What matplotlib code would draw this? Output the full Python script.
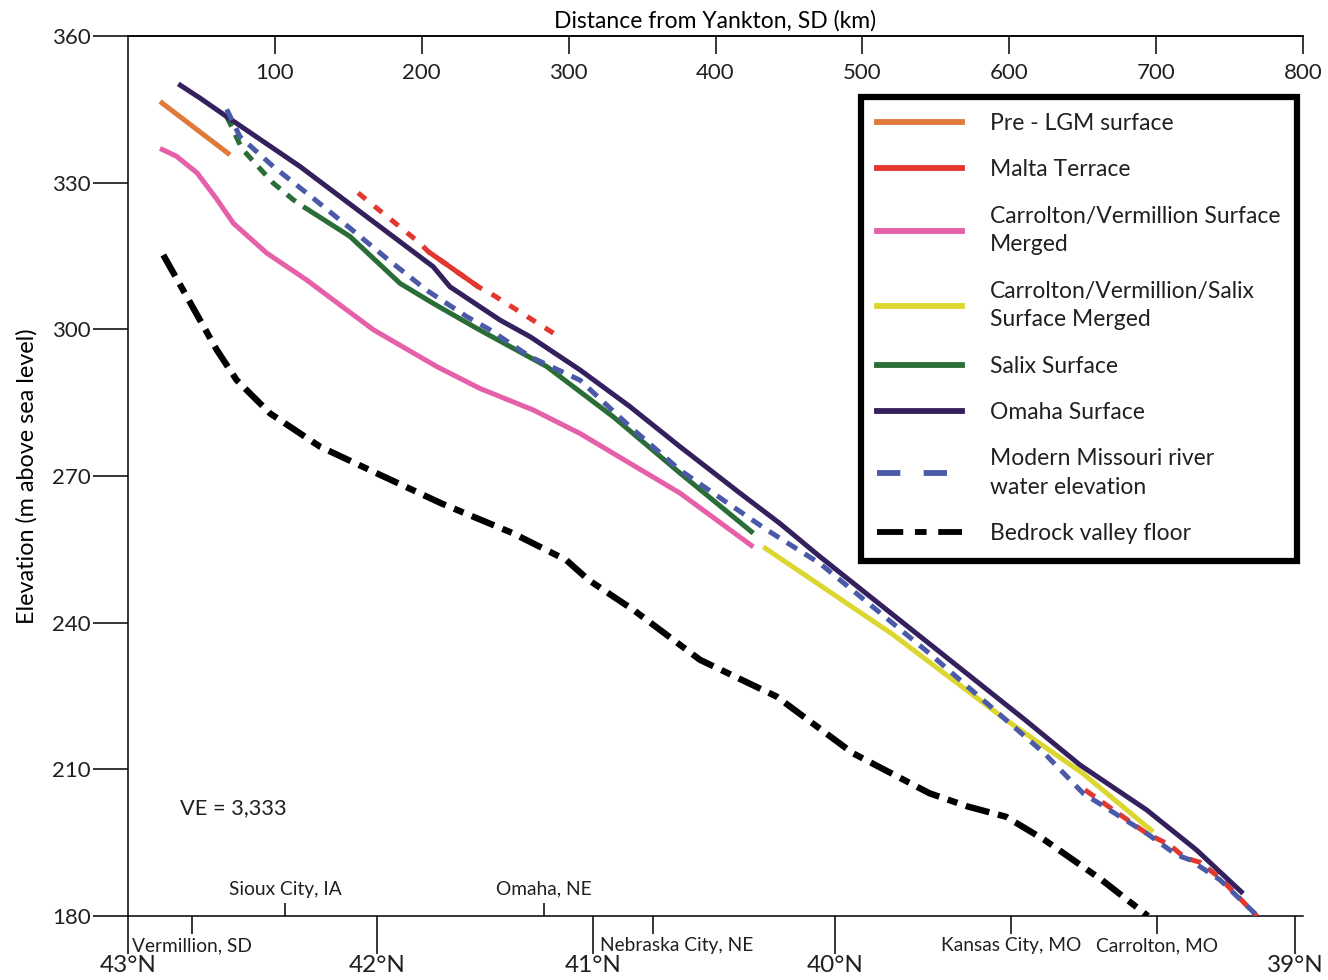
import matplotlib.pyplot as plt
from matplotlib.lines import Line2D

plt.rcParams['font.family'] = ['Lato', 'DejaVu Sans']
plt.rcParams['text.color'] = '#231f20'

# distance from Yankton (km) and elevation (m above sea level)
pre_lgm_km = [21.8, 69.4]
pre_lgm_m = [346.6, 335.7]

malta_up_km = [156.6, 198.8, 204.4, 238.5, 248.7, 291.8]
malta_up_m = [327.9, 317.6, 315.9, 308.7, 307.0, 298.8]
malta_down_km = [651.5, 693.5, 709.4, 719.6, 729.7, 743.4, 768.6]
malta_down_m = [205.8, 196.9, 194.5, 191.9, 191.0, 187.8, 180.0]

carr_verm_km = [21.8, 33.0, 47.0, 60.0, 71.7, 94.4, 121.6, 139.8, 167.1, 210.1, 239.6,
                275.9, 307.7, 341.7, 375.8, 425.7]
carr_verm_m = [337.0, 335.4, 332.0, 326.8, 321.7, 315.6, 310.1, 306.0, 299.9, 292.4, 287.9,
               283.5, 278.7, 272.6, 266.5, 255.5]

carr_verm_salix_km = [432.5, 519.7, 597.8, 649.9, 698.0]
carr_verm_salix_m = [255.5, 237.8, 220.1, 209.2, 197.2]

salix_km = [67.2, 70.6, 77.4, 87.6, 98.9, 112.5, 119.3, 151.1, 185.2, 207.8, 237.4,
            285.0, 330.4, 375.8, 425.7]
salix_m = [343.5, 341.4, 337.0, 333.6, 329.9, 326.5, 325.1, 319.0, 309.4, 305.3, 300.2,
           292.4, 282.1, 270.6, 258.3]

omaha_km = [34.2, 49.0, 67.2, 117.1, 207.8, 219.2, 253.2, 273.7, 307.7, 341.7, 375.8,
            416.6, 443.8, 471.1, 610.8, 648.1, 693.5, 727.5, 759.2]
omaha_m = [350.2, 347.3, 343.5, 333.3, 312.8, 308.7, 301.9, 298.5, 291.7, 284.2, 276.0,
           266.5, 260.3, 253.5, 220.1, 210.9, 201.7, 193.5, 184.6]

river_km = [67.2, 76.2, 98.9, 126.1, 151.1, 176.1, 203.3, 230.6, 246.4, 273.7, 307.7,
            341.7, 375.8, 405.2, 434.8, 471.1, 545.7, 623.8, 650.3, 693.5, 713.9, 722.9,
            743.4, 768.3]
river_m = [345.0, 339.4, 333.3, 326.8, 320.7, 314.5, 308.0, 302.6, 299.9, 294.4, 289.6,
           280.1, 271.2, 265.1, 259.0, 252.1, 233.7, 213.3, 205.1, 196.9, 192.5, 191.5,
           187.4, 180.2]

bedrock_km = [24.0, 40.0, 60.4, 74.0, 96.7, 130.7, 164.7, 213.3, 262.0, 298.4, 313.7,
              344.1, 389.4, 441.5, 493.5, 545.7, 571.7, 597.8, 623.8, 662.9, 694.4]
bedrock_m = [315.2, 306.7, 295.8, 289.6, 282.8, 276.0, 271.2, 264.4, 258.3, 252.8, 248.7,
             242.6, 232.4, 224.9, 213.3, 205.1, 202.4, 200.3, 195.6, 187.4, 180.0]

distance_ticks = [100, 200, 300, 400, 500, 600, 700, 800]
elev_ticks = [180, 210, 240, 270, 300, 330, 360]

lat_km = [0, 169.5, 316.5, 481.3, 794.7]
lat_labels = ['43°N', '42°N', '41°N', '40°N', '39°N']

towns_above_km = [106.9, 283.2]
towns_above = ['Sioux City, IA', 'Omaha, NE']
towns_below_km = [43.6, 357.4, 601.0, 700.5]
towns_below = ['Vermillion, SD', 'Nebraska City, NE', 'Kansas City, MO', 'Carrolton, MO']

c_orange = '#df7a3a'
c_red = '#e2382f'
c_pink = '#e560a8'
c_yellow = '#dcd730'
c_green = '#2b6d36'
c_purple = '#35205e'
c_blue = '#4a5aa8'

fig = plt.figure(figsize=(13.28, 9.8), dpi=100)
ax = fig.add_axes([0.0964, 0.0653, 0.8848, 0.898])

lw = 3.6
ax.plot(bedrock_km, bedrock_m, color='black', lw=4.6, dashes=(3.8, 1.4, 1.6, 1.4), zorder=2)
ax.plot(pre_lgm_km, pre_lgm_m, color=c_orange, lw=lw, solid_capstyle='butt', zorder=3)
ax.plot(carr_verm_km, carr_verm_m, color=c_pink, lw=lw, solid_capstyle='butt', zorder=3)
ax.plot(carr_verm_salix_km, carr_verm_salix_m, color=c_yellow, lw=lw, solid_capstyle='butt', zorder=3)
ax.plot(salix_km[:7], salix_m[:7], color=c_green, lw=lw, dashes=(2.2, 1.8), zorder=3)
ax.plot(salix_km[6:], salix_m[6:], color=c_green, lw=lw, solid_capstyle='butt', zorder=3)
ax.plot(malta_up_km, malta_up_m, color=c_red, lw=lw, dashes=(2.0, 2.2), zorder=3)
ax.plot(malta_up_km[2:4], malta_up_m[2:4], color=c_red, lw=lw, solid_capstyle='butt', zorder=3)
ax.plot(malta_down_km, malta_down_m, color=c_red, lw=lw, dashes=(2.4, 1.8), zorder=4)
ax.plot(omaha_km, omaha_m, color=c_purple, lw=lw, solid_capstyle='butt', zorder=5)
ax.plot(river_km, river_m, color=c_blue, lw=lw, dashes=(2.4, 1.8), zorder=6)

ax.set_xlim(0, 800)
ax.set_ylim(180, 360)

ax.spines['right'].set_visible(False)
for s in ['left', 'top', 'bottom']:
    ax.spines[s].set_linewidth(1.1)

ax.set_yticks(elev_ticks)
ax.tick_params(axis='y', direction='out', length=25, width=1.1, labelsize=16, pad=2,
               labelcolor='#231f20')
ax.set_ylabel('Elevation (m above sea level)', fontsize=16.8, labelpad=10)

ax.set_xticks(lat_km, lat_labels)
ax.tick_params(axis='x', direction='out', length=27, width=1.1, labelsize=17.5, pad=1,
               labelcolor='#231f20')

top = ax.secondary_xaxis('top')
top.set_xticks(distance_ticks)
top.tick_params(direction='in', length=13, width=1.1, labelsize=16, pad=-34,
                labelcolor='#231f20')
top.spines['top'].set_linewidth(1.1)
top.set_xlabel('Distance from Yankton, SD (km)', fontsize=16.5, labelpad=6)

trans = ax.get_xaxis_transform()
ax.vlines(towns_above_km, 0, 0.015, color='black', lw=1.1, transform=trans, clip_on=False)
ax.vlines(towns_below_km, -0.02, 0, color='black', lw=1.1, transform=trans, clip_on=False)
for km, name in zip(towns_above_km, towns_above):
    ax.text(km, 0.021, name, transform=trans, ha='center', va='bottom', fontsize=13.8)
for km, name in zip(towns_below_km, towns_below):
    ha = 'left' if name.startswith('Nebraska') else 'center'
    x = km - 36 if ha == 'left' else km
    ax.text(x, -0.024, name, transform=trans, ha=ha, va='top', fontsize=13.8)

ax.text(0.044, 0.123, 'VE = 3,333', transform=ax.transAxes, fontsize=15.7,
        ha='left', va='center')

handles = [
    Line2D([], [], color=c_orange, lw=4.2),
    Line2D([], [], color=c_red, lw=4.2),
    Line2D([], [], color=c_pink, lw=4.2),
    Line2D([], [], color=c_yellow, lw=4.2),
    Line2D([], [], color=c_green, lw=4.2),
    Line2D([], [], color=c_purple, lw=4.2),
    Line2D([], [], color=c_blue, lw=4.2, dashes=(4, 4)),
    Line2D([], [], color='black', lw=4.2, dashes=(4.5, 2, 2, 2)),
]
labels = ['Pre - LGM surface', 'Malta Terrace', 'Carrolton/Vermillion Surface\nMerged',
          'Carrolton/Vermillion/Salix\nSurface Merged', 'Salix Surface', 'Omaha Surface',
          'Modern Missouri river\nwater elevation', 'Bedrock valley floor']
leg = ax.legend(handles, labels, loc='upper right', bbox_to_anchor=(0.995, 0.931),
                borderaxespad=0, fancybox=False, framealpha=1, edgecolor='black',
                fontsize=16.5, handlelength=3.7, handletextpad=1.22, labelspacing=1.1,
                borderpad=0.72)
leg.get_frame().set_linewidth(4.5)
for t in leg.get_texts():
    t.set_linespacing(1.46)

fig.savefig('out.png', dpi=100)
